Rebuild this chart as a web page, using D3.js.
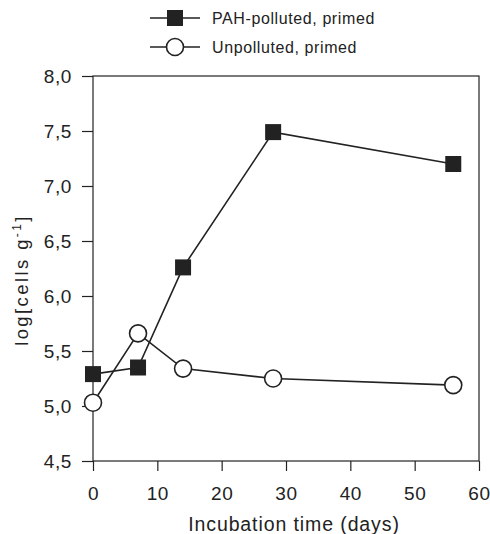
<!DOCTYPE html>
<html>
<head>
<meta charset="utf-8">
<script src="https://cdn.jsdelivr.net/npm/d3@7"></script>
<style>
  body { margin: 0; background: #fff; }
  text { font-family: "Liberation Sans", Arial, sans-serif; fill: #222; }
</style>
</head>
<body>
<div id="chart"></div>
<script>
const days = [0, 7, 14, 28, 56];
const pahPrimed = [5.29, 5.35, 6.26, 7.49, 7.20];
const unpollutedPrimed = [5.03, 5.66, 5.34, 5.25, 5.19];
const xTicks = [0, 10, 20, 30, 40, 50, 60];
const yTicks = [4.5, 5.0, 5.5, 6.0, 6.5, 7.0, 7.5, 8.0];
const seriesNames = ["PAH-polluted, primed", "Unpolluted, primed"];

const margin = { top: 76, right: 11, bottom: 73, left: 93 },
      width = 490 - margin.left - margin.right,
      height = 534 - margin.top - margin.bottom;

const svg = d3.select("#chart").append("svg")
    .attr("width", 490)
    .attr("height", 534);

const g = svg.append("g")
    .attr("transform", `translate(${margin.left},${margin.top})`);

const x = d3.scaleLinear().domain([0, 60]).range([0, width]);
const y = d3.scaleLinear().domain([4.5, 8.0]).range([height, 0]);

const fmt = d => d3.format(".1f")(d).replace(".", ",");

// frame
g.append("rect")
    .attr("width", width)
    .attr("height", height)
    .attr("fill", "none")
    .attr("stroke", "#222")
    .attr("stroke-width", 1.2);

const xAxis = g.append("g")
    .attr("transform", `translate(0,${height})`)
    .call(d3.axisBottom(x).tickValues(xTicks).tickSize(10).tickPadding(16));

const yAxis = g.append("g")
    .call(d3.axisLeft(y).tickValues(yTicks).tickFormat(fmt).tickSize(11).tickPadding(10));

[xAxis, yAxis].forEach(a => {
    a.select(".domain").remove();
    a.selectAll(".tick line").attr("stroke", "#222").attr("stroke-width", 1.2);
    a.selectAll(".tick text")
        .style("font-size", "19px")
        .style("letter-spacing", "0.6px")
        .attr("fill", "#222");
});

g.append("text")
    .attr("x", width / 2 + 8)
    .attr("y", height + 70)
    .attr("text-anchor", "middle")
    .style("font-size", "19.5px")
    .style("letter-spacing", "0.9px")
    .text("Incubation time (days)");

const yTitle = g.append("text")
    .attr("transform", `translate(-65,204) rotate(-90)`)
    .attr("text-anchor", "middle")
    .style("font-size", "18.5px")
    .style("letter-spacing", "2.4px");
yTitle.append("tspan").text("log[cells g");
yTitle.append("tspan").attr("dy", -7).style("font-size", "12px").text("-1");
yTitle.append("tspan").attr("dy", 7).text("]");

const line = d3.line()
    .x((d, i) => x(days[i]))
    .y(d => y(d));

g.append("path")
    .attr("d", line(pahPrimed))
    .attr("fill", "none")
    .attr("stroke", "#222")
    .attr("stroke-width", 1.6);

g.append("path")
    .attr("d", line(unpollutedPrimed))
    .attr("fill", "none")
    .attr("stroke", "#222")
    .attr("stroke-width", 1.6);

g.selectAll(".sq")
    .data(pahPrimed)
    .enter()
    .append("rect")
    .attr("x", (d, i) => x(days[i]) - 8)
    .attr("y", d => y(d) - 8)
    .attr("width", 16)
    .attr("height", 16)
    .attr("fill", "#222");

g.selectAll(".circ")
    .data(unpollutedPrimed)
    .enter()
    .append("circle")
    .attr("cx", (d, i) => x(days[i]))
    .attr("cy", d => y(d))
    .attr("r", 8.5)
    .attr("fill", "#fff")
    .attr("stroke", "#222")
    .attr("stroke-width", 1.6);

// legend
const legend = svg.append("g").attr("transform", "translate(150,18)");
seriesNames.forEach((name, i) => {
    const row = legend.append("g").attr("transform", `translate(0,${i * 29})`);
    row.append("line")
        .attr("x1", 0).attr("x2", 50)
        .attr("stroke", "#222").attr("stroke-width", 1.6);
    if (i === 0) {
        row.append("rect")
            .attr("x", 17).attr("y", -8)
            .attr("width", 16).attr("height", 16)
            .attr("fill", "#222");
    } else {
        row.append("circle")
            .attr("cx", 25).attr("r", 8.5)
            .attr("fill", "#fff").attr("stroke", "#222").attr("stroke-width", 1.6);
    }
    row.append("text")
        .attr("x", 62).attr("y", 6)
        .style("font-size", "16px")
        .style("letter-spacing", "0.6px")
        .text(name);
});
</script>
</body>
</html>
